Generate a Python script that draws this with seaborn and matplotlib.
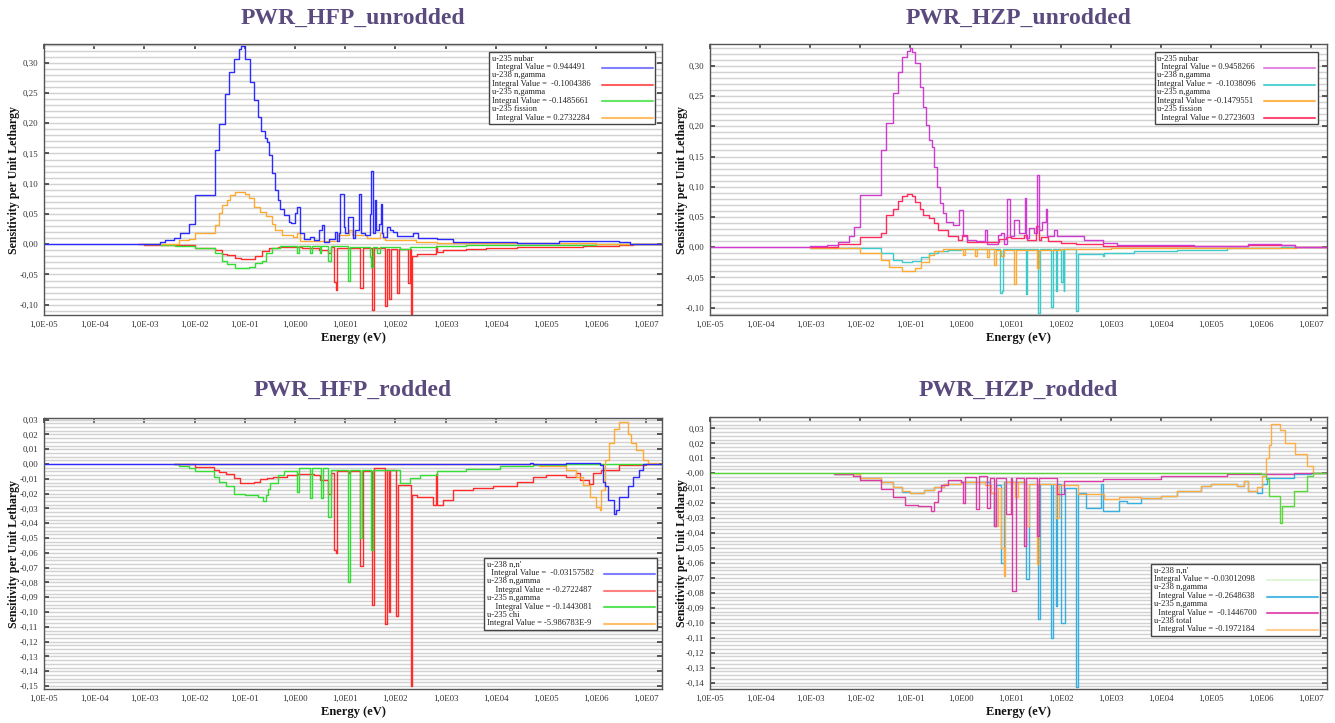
import numpy as np
import pandas as pd
import matplotlib
matplotlib.use("Agg")
import matplotlib.pyplot as plt
from matplotlib.lines import Line2D
from matplotlib.legend_handler import HandlerLine2D
from matplotlib.ticker import MultipleLocator, NullLocator, FixedLocator
import seaborn as sns

sns.set_theme(style="white")
plt.rcParams["font.family"] = ["Liberation Serif", "DejaVu Serif"]

# ---------------- shared axis text ----------------
X_TICKS = [1e-5, 1e-4, 1e-3, 1e-2, 1e-1, 1e0, 1e1, 1e2, 1e3, 1e4, 1e5, 1e6, 1e7]
X_TICK_LABELS = ["1,0E-05", "1,0E-04", "1,0E-03", "1,0E-02", "1,0E-01", "1,0E00",
                 "1,0E01", "1,0E02", "1,0E03", "1,0E04", "1,0E05", "1,0E06", "1,0E07"]
TITLES = ["PWR_HFP_unrodded", "PWR_HZP_unrodded", "PWR_HFP_rodded", "PWR_HZP_rodded"]
Y_LABEL = "Sensitivity per Unit Lethargy"
X_LABEL = "Energy (eV)"

# ================= PWR_HFP_unrodded =================
HFPU_NUBAR_E = [1e-5, 2.0e-3, 2.6e-3, 3.8e-3, 5.1e-3, 7.6e-3, 1.0e-2, 2.5e-2, 3.0e-2, 4.0e-2, 4.9e-2,
                6.0e-2, 7.8e-2, 8.5e-2, 1.0e-1, 1.26e-1, 1.55e-1, 1.8e-1, 2.1e-1, 2.5e-1, 2.8e-1, 3.1e-1,
                3.5e-1, 4.0e-1, 4.5e-1, 5.0e-1, 6.0e-1, 7.5e-1, 8.5e-1, 0.98, 1.1, 1.25, 1.5, 2.0, 2.4,
                3.0, 3.5, 3.8, 4.8, 6.2, 6.8, 7.4, 8.0, 9.3, 10.0, 11.6, 14.6, 15.8, 18.7, 20.4, 25.0,
                31.5, 33.3, 35.0, 39.5, 41.3, 48.0, 51.0, 53.5, 57.7, 69.0, 78.0, 91.0, 106.0, 229.0,
                286.0, 666.0, 1420.0, 2.6e4, 1.85e5, 2.9e6, 4.6e6, 2.0e7]
HFPU_NUBAR_S = [0.0, 0.004, 0.0066, 0.011, 0.018, 0.033, 0.081, 0.155, 0.199, 0.248, 0.285, 0.307,
                0.322, 0.327, 0.306, 0.269, 0.238, 0.21, 0.187, 0.175, 0.169, 0.148, 0.117, 0.09, 0.073,
                0.059, 0.048, 0.037, 0.035, 0.051, 0.061, 0.018, 0.008, 0.012, 0.007, 0.023, 0.032,
                0.004, 0.008, 0.02, 0.006, 0.018, 0.083, 0.029, 0.018, 0.045, 0.011, 0.023, 0.083,
                0.018, 0.015, 0.05, 0.121, 0.018, 0.073, 0.023, 0.034, 0.067, 0.018, 0.012, 0.028,
                0.024, 0.02, 0.014, 0.018, 0.011, 0.008, 0.0033, 0.002, 0.005, 0.0033, 0.0, 0.0]
HFPU_U238NG_E = [7.6e-4, 1.0e-3, 3.0e-3, 1.0e-2, 2.6e-2, 3.5e-2, 4.5e-2, 6.5e-2, 8.5e-2, 1.2e-1, 1.6e-1,
                 2.2e-1, 3.0e-1, 4.5e-1, 1.4, 3.0, 4.5, 5.3, 5.86, 6.5, 6.9, 19.9, 22.4, 34.0, 38.0,
                 62.0, 67.0, 76.0, 81.0, 107.0, 118.0, 181.0, 191.0, 204.0, 213.0, 264.0, 640.0, 676.0,
                 896.0, 2600.0, 6500.0, 2.6e4, 4.0e5, 5.4e5, 2.9e6, 5.3e6, 2.0e7]
HFPU_U238NG_S = [0.0, -0.001, -0.002, -0.0055, -0.01, -0.016, -0.018, -0.022, -0.024, -0.024, -0.02,
                 -0.012, -0.007, -0.0045, -0.006, -0.01, -0.015, -0.005, -0.062, -0.075, -0.006,
                 -0.073, -0.006, -0.108, -0.007, -0.102, -0.008, -0.09, -0.008, -0.08, -0.008, -0.064,
                 -0.008, -0.115, -0.02, -0.0165, -0.003, -0.0127, -0.01, -0.008, -0.006, -0.004,
                 -0.005, -0.003, -0.0015, 0.0, 0.0]
HFPU_U235NG_E = [1.0e-3, 2.0e-3, 4.0e-3, 1.0e-2, 2.6e-2, 3.5e-2, 4.5e-2, 6.5e-2, 1.2e-1, 1.6e-1, 2.2e-1,
                 2.6e-1, 3.5e-1, 5.0e-1, 1.08, 1.2, 1.95, 2.15, 3.1, 3.35, 4.6, 5.1, 11.6, 12.6, 31.5,
                 33.3, 36.0, 42.5, 50.0, 123.0, 195.0, 660.0, 2600.0, 1.0e6, 2.0e7]
HFPU_U235NG_S = [0.0, -0.001, -0.003, -0.006, -0.015, -0.027, -0.032, -0.04, -0.038, -0.031, -0.027,
                 -0.015, -0.007, -0.003, -0.014, -0.003, -0.015, -0.003, -0.015, -0.003, -0.027,
                 -0.0035, -0.06, -0.005, -0.021, -0.037, -0.004, -0.015, -0.004, -0.008, -0.0044,
                 -0.0022, -0.0005, 0.0, 0.0]
HFPU_FISS_E = [1.0e-3, 2.0e-3, 5.0e-3, 7.6e-3, 1.0e-2, 2.6e-2, 3.0e-2, 3.5e-2, 4.5e-2, 5.0e-2, 6.5e-2,
               1.0e-1, 1.2e-1, 1.55e-1, 2.0e-1, 2.6e-1, 3.5e-1, 4.0e-1, 5.5e-1, 9.0e-1, 1.1, 1.25, 6.8,
               12.0, 13.5, 27.0, 50.0, 56.0, 62.0, 260.0, 660.0, 1.0e6, 2.0e7]
HFPU_FISS_S = [0.0, 0.001, 0.0066, 0.009, 0.019, 0.031, 0.051, 0.065, 0.073, 0.081, 0.087, 0.083,
               0.076, 0.062, 0.054, 0.046, 0.034, 0.023, 0.015, 0.012, 0.019, 0.0055, 0.015, 0.023,
               0.015, 0.011, 0.018, 0.011, 0.0066, 0.0033, 0.0017, 0.0005, 0.0]
HFPU_LABELS = ["u-235 nubar\n  Integral Value = 0.944491",
               "u-238 n,gamma\nIntegral Value =  -0.1004386",
               "u-235 n,gamma\nIntegral Value = -0.1485661",
               "u-235 fission\n  Integral Value = 0.2732284"]

# ================= PWR_HZP_unrodded =================
HZPU_NUBAR_E = [1e-5, 1.0e-3, 2.2e-3, 3.5e-3, 6.0e-3, 7.6e-3, 1.0e-2, 2.6e-2, 3.2e-2, 4.5e-2, 5.6e-2,
                6.8e-2, 8.4e-2, 9.8e-2, 1.05e-1, 1.25e-1, 1.52e-1, 1.8e-1, 2.0e-1, 2.35e-1, 2.7e-1,
                3.0e-1, 3.4e-1, 3.8e-1, 4.4e-1, 5.1e-1, 6.9e-1, 0.95, 1.1, 1.35, 2.0, 3.0, 3.4, 5.6,
                6.3, 7.4, 8.3, 9.5, 11.6, 14.7, 19.3, 20.5, 23.0, 29.0, 34.0, 36.8, 43.0, 50.0, 54.0,
                73.0, 85.0, 290.0, 680.0, 1340.0, 4.5e4, 5.5e5, 2.5e6, 4.6e6, 2.0e7]
HZPU_NUBAR_S = [0.0, 0.002, 0.004, 0.009, 0.019, 0.034, 0.0865, 0.161, 0.205, 0.255, 0.29, 0.314,
                0.325, 0.33, 0.323, 0.305, 0.265, 0.232, 0.202, 0.177, 0.166, 0.133, 0.1, 0.073, 0.056,
                0.042, 0.037, 0.062, 0.018, 0.012, 0.01, 0.029, 0.006, 0.02, 0.023, 0.005, 0.079,
                0.018, 0.045, 0.023, 0.081, 0.015, 0.031, 0.023, 0.12, 0.029, 0.042, 0.063, 0.019,
                0.028, 0.019, 0.012, 0.0066, 0.003, 0.0017, 0.005, 0.003, 0.0, 0.0]
HZPU_U238NG_E = [1.0e-3, 2.6e-3, 2.6e-2, 4.5e-2, 6.8e-2, 1.05e-1, 1.6e-1, 2.35e-1, 3.6e-1, 5.6e-1, 1.0,
                 6.1, 6.6, 6.9, 20.0, 21.5, 35.7, 38.0, 65.0, 70.0, 79.0, 85.0, 100.0, 108.0, 114.0,
                 118.0, 200.0, 215.0, 680.0, 730.0, 2900.0, 2.1e4, 2.1e5, 2.5e6, 2.0e7]
HZPU_U238NG_S = [-0.0005, -0.002, -0.01, -0.021, -0.025, -0.023, -0.0165, -0.01, -0.0055, -0.0044,
                 -0.003, -0.076, -0.073, -0.003, -0.077, -0.003, -0.109, -0.003, -0.099, -0.003,
                 -0.073, -0.003, -0.058, -0.003, -0.073, -0.003, -0.105, -0.011, -0.014, -0.01,
                 -0.007, -0.0044, -0.002, 0.0, 0.0]
HZPU_U235NG_E = [1.0e-3, 1.0e-2, 2.6e-2, 3.8e-2, 6.8e-2, 1.25e-1, 1.6e-1, 2.35e-1, 3.0e-1, 4.5e-1, 1.1,
                 1.25, 1.9, 2.15, 3.4, 3.7, 4.6, 5.0, 6.3, 7.4, 11.6, 12.6, 34.0, 37.0, 100.0, 1000.0,
                 1.0e5, 5.0e6, 2.0e7]
HZPU_U235NG_S = [-0.001, -0.01, -0.021, -0.032, -0.0385, -0.035, -0.025, -0.013, -0.0055, -0.0033,
                 -0.013, -0.003, -0.0143, -0.003, -0.016, -0.003, -0.029, -0.004, -0.015, -0.004,
                 -0.06, -0.004, -0.035, -0.004, -0.003, -0.0015, -0.0008, 0.0, 0.0]
HZPU_FISS_E = [1.0e-3, 3.5e-3, 1.0e-2, 2.6e-2, 3.2e-2, 4.5e-2, 5.6e-2, 6.8e-2, 8.4e-2, 1.05e-1, 1.25e-1,
               1.52e-1, 1.8e-1, 2.35e-1, 3.0e-1, 3.6e-1, 5.6e-1, 8.9e-1, 1.05, 1.35, 5.9, 8.0, 10.0,
               18.0, 21.5, 31.5, 36.8, 40.0, 55.0, 100.0, 200.0, 680.0, 4.5e4, 5.5e5, 4.6e6, 2.0e7]
HZPU_FISS_S = [0.001, 0.0055, 0.0176, 0.023, 0.053, 0.064, 0.077, 0.084, 0.0876, 0.084, 0.074, 0.064,
               0.053, 0.048, 0.04, 0.029, 0.018, 0.012, 0.02, 0.009, 0.013, 0.0165, 0.015, 0.02,
               0.012, 0.035, 0.012, 0.0165, 0.0105, 0.0077, 0.0055, 0.002, 0.0017, 0.0038, 0.0, 0.0]
HZPU_LABELS = ["u-235 nubar\n  Integral Value = 0.9458266",
               "u-238 n,gamma\nIntegral Value =  -0.1038096",
               "u-235 n,gamma\nIntegral Value = -0.1479551",
               "u-235 fission\n  Integral Value = 0.2723603"]

# ================= PWR_HFP_rodded =================
HFPR_NN_E = [1e-5, 4.8e4, 5.5e4, 2.5e5, 4.7e5, 1.17e6, 1.36e6, 1.47e6, 1.7e6, 2.3e6, 2.5e6, 2.9e6,
             4.2e6, 5.3e6, 7.2e6, 8.4e6, 2.0e7]
HFPR_NN_S = [0.0, 0.001, 0.0, 0.0004, 0.0009, -0.0007, -0.012, -0.015, -0.024, -0.034, -0.031, -0.022,
             -0.015, -0.0086, -0.004, 0.0, 0.0]
HFPR_U238NG_E = [3.8e-3, 1.0e-2, 2.4e-2, 3.0e-2, 4.3e-2, 6.0e-2, 8.1e-2, 1.5e-1, 2.0e-1, 2.8e-1, 3.7e-1,
                 7.0e-1, 1.1, 2.4, 3.2, 4.5, 5.2, 5.86, 6.5, 6.9, 12.0, 12.6, 20.0, 22.4, 34.0, 37.5,
                 62.0, 67.0, 73.0, 78.0, 102.0, 115.0, 204.0, 213.0, 264.0, 560.0, 640.0, 660.0, 900.0,
                 1420.0, 3500.0, 8800.0, 2.6e4, 5.5e4, 1.0e5, 2.5e5, 4.0e5, 4.7e5, 7.3e5, 8.5e5,
                 1.25e6, 2.9e6, 9.8e6, 2.0e7]
HFPR_U238NG_S = [-0.0003, -0.0023, -0.004, -0.0056, -0.007, -0.0097, -0.0126, -0.012, -0.01, -0.0092,
                 -0.0086, -0.0074, -0.0068, -0.0075, -0.011, -0.02, -0.006, -0.058, -0.06, -0.005,
                 -0.006, -0.005, -0.069, -0.005, -0.095, -0.003, -0.108, -0.004, -0.1, -0.004, -0.103,
                 -0.014, -0.15, -0.021, -0.0225, -0.028, -0.007, -0.028, -0.024, -0.0175, -0.0165,
                 -0.015, -0.012, -0.0086, -0.0074, -0.0086, -0.006, -0.011, -0.0135, -0.006, -0.004,
                 -0.0007, 0.0, 0.0]
HFPR_U235NG_E = [3.8e-3, 5.0e-3, 7.6e-3, 1.0e-2, 2.4e-2, 3.0e-2, 4.3e-2, 6.0e-2, 1.0e-1, 1.8e-1, 2.3e-1,
                 2.6e-1, 2.9e-1, 3.2e-1, 4.5e-1, 6.0e-1, 1.08, 1.2, 1.95, 2.15, 3.3, 3.6, 4.6, 5.1, 11.6,
                 12.6, 20.0, 21.5, 32.4, 35.5, 123.0, 195.0, 310.0, 660.0, 2600.0, 1.2e4, 5.5e4, 2.5e5,
                 2.0e7]
HFPR_U235NG_S = [0.0, -0.001, -0.003, -0.0045, -0.0086, -0.012, -0.015, -0.02, -0.021, -0.0225, -0.025,
                 -0.021, -0.017, -0.013, -0.0074, -0.005, -0.019, -0.003, -0.023, -0.003, -0.023,
                 -0.003, -0.036, -0.004, -0.08, -0.004, -0.05, -0.004, -0.058, -0.004, -0.0126,
                 -0.0097, -0.0074, -0.005, -0.0034, -0.0014, -0.0007, 0.0, 0.0]
HFPR_CHI_E = [3.8e-3, 7.4e4, 2.5e5, 4.0e5, 5.4e5, 7.4e5, 1.0e6, 1.17e6, 1.26e6, 1.47e6, 1.79e6, 2.3e6,
              2.9e6, 4.2e6, 5.0e6, 6.2e6, 8.4e6, 1.07e7, 1.67e7, 2.0e7]
HFPR_CHI_S = [0.0, -0.0014, -0.004, -0.0086, -0.014, -0.022, -0.029, -0.031, -0.0175, 0.0027, 0.014,
              0.024, 0.0286, 0.02, 0.014, 0.0095, 0.0027, 0.0009, 0.0, 0.0]
HFPR_LABELS = ["u-238 n,n'\n  Integral Value =  -0.03157582",
               "u-238 n,gamma\n    Integral Value = -0.2722487",
               "u-235 n,gamma\n    Integral Value = -0.1443081",
               "u-235 chi\nIntegral Value = -5.986783E-9"]

# ================= PWR_HZP_rodded =================
HZPR_NN_E = [1e-5, 1.0e6, 1.24e6, 1.45e6, 2.4e6, 2.6e6, 4.5e6, 8.3e6, 1.05e7, 2.0e7]
HZPR_NN_S = [0.0, -0.0007, -0.004, -0.015, -0.033, -0.022, -0.012, -0.0018, 0.0, 0.0]
HZPR_U238NG_E = [3.0e-3, 1.0e-2, 2.6e-2, 4.5e-2, 6.8e-2, 1.0e-1, 1.9e-1, 3.0e-1, 4.7e-1, 1.0, 3.9, 4.6,
                 5.0, 6.3, 7.4, 20.0, 23.0, 35.0, 38.5, 65.0, 70.0, 79.0, 85.0, 100.0, 120.0, 200.0,
                 215.0, 315.0, 630.0, 680.0, 1450.0, 2100.0, 4000.0, 9800.0, 2.1e4, 6.2e4, 9.8e4,
                 3.3e5, 4.5e5, 5.3e5, 8.3e5, 1.05e6, 1.3e6, 4.5e6, 9.7e6, 2.0e7]
HZPR_U238NG_S = [-0.0007, -0.003, -0.006, -0.009, -0.0125, -0.013, -0.0114, -0.009, -0.007, -0.0062,
                 -0.013, -0.035, -0.008, -0.06, -0.006, -0.071, -0.007, -0.0975, -0.007, -0.11, -0.007,
                 -0.089, -0.007, -0.1, -0.01, -0.143, -0.013, -0.023, -0.007, -0.025, -0.0185, -0.0196,
                 -0.0167, -0.015, -0.0118, -0.0085, -0.007, -0.0085, -0.005, -0.0118, -0.013, -0.0074,
                 -0.003, -0.0002, 0.0, 0.0]
HZPR_U235NG_E = [3.0e-3, 7.0e-3, 1.0e-2, 2.6e-2, 4.5e-2, 7.6e-2, 1.4e-1, 2.6e-1, 3.0e-1, 3.5e-1, 4.0e-1,
                 5.5e-1, 1.0, 1.12, 1.25, 2.0, 2.3, 3.3, 3.8, 4.6, 5.0, 8.1, 10.0, 10.8, 12.6, 18.5, 20.0,
                 34.0, 37.0, 85.0, 116.0, 680.0, 1.0e4, 2.1e5, 4.5e6, 2.0e7]
HZPR_U235NG_S = [-0.0007, -0.0018, -0.0047, -0.0107, -0.016, -0.021, -0.022, -0.025, -0.019, -0.012,
                 -0.008, -0.0047, -0.006, -0.02, -0.0025, -0.024, -0.0018, -0.023, -0.003, -0.035,
                 -0.003, -0.027, -0.003, -0.0786, -0.003, -0.0486, -0.003, -0.042, -0.003, -0.014,
                 -0.005, -0.004, -0.0018, -0.0005, 0.0, 0.0]
HZPR_TOTAL_E = [3.0e-3, 1.0e-2, 2.6e-2, 4.5e-2, 6.8e-2, 1.0e-1, 1.9e-1, 3.0e-1, 4.7e-1, 1.0, 3.0, 4.1,
                5.1, 5.6, 6.3, 7.4, 7.8, 12.0, 14.0, 20.0, 23.0, 34.0, 37.0, 79.0, 90.0, 215.0, 730.0,
                1450.0, 4000.0, 9800.0, 2.1e4, 6.2e4, 9.8e4, 3.3e5, 4.5e5, 5.3e5, 8.3e5, 1.05e6,
                1.24e6, 1.45e6, 1.55e6, 2.4e6, 3.0e6, 4.8e6, 8.3e6, 1.05e7, 1.5e7, 2.0e7]
HZPR_TOTAL_S = [-0.0007, -0.003, -0.006, -0.009, -0.012, -0.013, -0.011, -0.009, -0.007, -0.0062,
                -0.008, -0.013, -0.035, -0.01, -0.05, -0.069, -0.006, -0.016, -0.006, -0.035, -0.007,
                -0.061, -0.007, -0.03, -0.008, -0.0136, -0.017, -0.016, -0.0167, -0.015, -0.0118,
                -0.0085, -0.007, -0.0085, -0.005, -0.0118, -0.0095, -0.0018, 0.0105, 0.019, 0.0327,
                0.029, 0.0205, 0.0127, 0.005, 0.0004, 0.0, 0.0]
HZPR_LABELS = ["u-238 n,n'\nIntegral Value = -0.03012098",
               "u-238 n,gamma\n  Integral Value = -0.2648638",
               "u-235 n,gamma\n  Integral Value =  -0.1446700",
               "u-238 total\n  Integral Value = -0.1972184"]

# ---------------- styling ----------------
C_BLUE, C_RED, C_GREEN, C_ORANGE = "#2b2bff", "#ff2b2b", "#33dd33", "#ffaa33"
C_MAGENTA, C_CYAN, C_CRIMSON = "#d03ad0", "#3ccaca", "#ff2a5e"
C_GREEN2, C_SKY, C_PINK, C_ORANGE2 = "#5ad83a", "#35aee0", "#dd3aa6", "#ffac45"
TITLE_COLOR = "#5a4a7e"

W, H = 1335, 723
fig = plt.figure(figsize=(W / 100, H / 100), dpi=100)

LEG_FS = 6.1
LEG_LS = 1.12


class SecondLineHandler(HandlerLine2D):
    """Draw the legend sample level with the second text line of a label."""

    def create_artists(self, legend, orig_handle, xdescent, ydescent, width, height,
                       fontsize, trans):
        arts = super().create_artists(legend, orig_handle, xdescent, ydescent, width,
                                      height, fontsize, trans)
        shift = 0.5 * fontsize * LEG_LS * 1.05
        for a in arts:
            a.set_ydata(np.asarray(a.get_ydata(), dtype=float) - shift)
        return arts


def px_axes(l, r, t, b):
    return fig.add_axes([l / W, 1 - b / H, (r - l) / W, (b - t) / H])


def draw(ax, E, S, color):
    n = min(len(E), len(S))
    df = pd.DataFrame({"E": E[:n], "S": S[:n]})
    sns.lineplot(data=df, x="E", y="S", ax=ax, color=color, lw=1.0, drawstyle="steps-post",
                 estimator=None, sort=False, legend=False)


def fmt(v):
    return f"{v:.2f}".replace(".", ",")


def style(ax, ylim, yticks, ylabels, minor_step, ylab_x):
    ax.set_xscale("log")
    ax.set_xlim(1e-5, 10 ** 7.31)
    ax.set_ylim(*ylim)
    ax.xaxis.set_major_locator(FixedLocator(X_TICKS))
    ax.xaxis.set_minor_locator(NullLocator())
    ax.set_xticklabels(X_TICK_LABELS)
    ax.yaxis.set_major_locator(FixedLocator(yticks))
    ax.set_yticklabels(ylabels)
    ax.yaxis.set_minor_locator(MultipleLocator(minor_step))
    ax.grid(False)
    ax.grid(which="both", axis="y", color="#d2d2d2", lw=1.05)
    ax.set_axisbelow(True)
    ax.tick_params(axis="both", which="major", labelsize=6.4, labelcolor="#333333",
                   direction="in", length=3.5, color="#444444", top=True, right=True,
                   bottom=False, left=True, pad=4)
    ax.tick_params(which="minor", length=0)
    for s in ax.spines.values():
        s.set_color("#555555")
        s.set_linewidth(1.0)
    ax.set_xlabel(X_LABEL, fontsize=9, fontweight="bold", color="#111111")
    ax.set_ylabel(Y_LABEL, fontsize=8.6, fontweight="bold", color="#111111")
    ax.xaxis.set_label_coords(0.5, -0.062)
    ax.yaxis.set_label_coords(ylab_x, 0.5)


def legend(ax, colors, labels, loc, anchor, handle_alpha, inner_width_px):
    handles = [Line2D([0], [0], color=c, lw=1.5, alpha=a) for c, a in zip(colors, handle_alpha)]
    leg = ax.legend(handles, labels, loc=loc, bbox_to_anchor=anchor, bbox_transform=ax.transAxes,
                    frameon=True, fancybox=False, edgecolor="#444444", fontsize=LEG_FS,
                    markerfirst=False, handlelength=6.0, handletextpad=1.6, borderpad=0.3,
                    labelspacing=0.0, borderaxespad=0.0, framealpha=1.0,
                    handler_map={Line2D: SecondLineHandler()})
    leg.get_frame().set_linewidth(1.0)
    for t in leg.get_texts():
        t.set_linespacing(LEG_LS)
        t.set_multialignment("left")
        t.set_color("#222222")
    # text flush left, sample line flush right (fixed-width rows)
    for col in leg._legend_handle_box.get_children():
        col.width = inner_width_px
        for row in col.get_children():
            row.mode = "expand"
    return leg


TOP_YTICKS = [-0.10, -0.05, 0.0, 0.05, 0.10, 0.15, 0.20, 0.25, 0.30]
BL_YTICKS = [round(0.03 - 0.01 * i, 2) for i in range(19)]
BR_YTICKS = [round(0.03 - 0.01 * i, 2) for i in range(18)]

# --- panel 1
ax1 = px_axes(44, 662, 44, 315)
ax1.set_xscale("log")
draw(ax1, HFPU_U238NG_E, HFPU_U238NG_S, C_RED)
draw(ax1, HFPU_U235NG_E, HFPU_U235NG_S, C_GREEN)
draw(ax1, HFPU_FISS_E, HFPU_FISS_S, C_ORANGE)
draw(ax1, HFPU_NUBAR_E, HFPU_NUBAR_S, C_BLUE)
style(ax1, (-0.117, 0.331), TOP_YTICKS, [fmt(v) for v in TOP_YTICKS], 0.01, -0.039)
legend(ax1, [C_BLUE, C_RED, C_GREEN, C_ORANGE], HFPU_LABELS, "upper right", (0.989, 0.970),
       [0.6, 0.75, 0.75, 0.75], 161)

# --- panel 2
ax2 = px_axes(710, 1327, 44, 315)
ax2.set_xscale("log")
draw(ax2, HZPU_U238NG_E, HZPU_U238NG_S, C_CYAN)
draw(ax2, HZPU_U235NG_E, HZPU_U235NG_S, C_ORANGE)
draw(ax2, HZPU_FISS_E, HZPU_FISS_S, C_CRIMSON)
draw(ax2, HZPU_NUBAR_E, HZPU_NUBAR_S, C_MAGENTA)
style(ax2, (-0.112, 0.336), TOP_YTICKS, [fmt(v) for v in TOP_YTICKS], 0.01, -0.036)
legend(ax2, [C_MAGENTA, C_CYAN, C_ORANGE, C_CRIMSON], HZPU_LABELS, "upper right", (0.985, 0.970),
       [0.6, 0.85, 0.85, 0.85], 158)

# --- panel 3
ax3 = px_axes(44, 662, 418, 689)
ax3.set_xscale("log")
draw(ax3, HFPR_U238NG_E, HFPR_U238NG_S, C_RED)
draw(ax3, HFPR_U235NG_E, HFPR_U235NG_S, C_GREEN)
draw(ax3, HFPR_CHI_E, HFPR_CHI_S, C_ORANGE)
draw(ax3, HFPR_NN_E, HFPR_NN_S, C_BLUE)
style(ax3, (-0.152, 0.0311), BL_YTICKS, [fmt(v) for v in BL_YTICKS], 0.0025, -0.039)
legend(ax3, [C_BLUE, C_RED, C_GREEN, C_ORANGE], HFPR_LABELS, "lower right", (0.992, 0.218),
       [0.6, 0.6, 0.8, 0.75], 168)

# --- panel 4
ax4 = px_axes(710, 1327, 417, 689)
ax4.set_xscale("log")
draw(ax4, HZPR_U238NG_E, HZPR_U238NG_S, C_SKY)
draw(ax4, HZPR_TOTAL_E, HZPR_TOTAL_S, C_ORANGE2)
draw(ax4, HZPR_U235NG_E, HZPR_U235NG_S, C_PINK)
draw(ax4, HZPR_NN_E, HZPR_NN_S, C_GREEN2)
br_labels = [fmt(v) for v in BR_YTICKS]
br_labels[3] = "-0,00"
style(ax4, (-0.1443, 0.0376), BR_YTICKS, br_labels, 0.0025, -0.036)
legend(ax4, [C_GREEN2, C_SKY, C_PINK, C_ORANGE2], HZPR_LABELS, "lower right", (0.989, 0.195),
       [0.2, 0.85, 0.85, 0.6], 164)

# --- titles
for ax, title, y in [(ax1, TITLES[0], 17), (ax2, TITLES[1], 17), (ax3, TITLES[2], 389),
                     (ax4, TITLES[3], 389)]:
    bb = ax.get_position()
    fig.text((bb.x0 + bb.x1) / 2, 1 - (y + 1) / H, title, ha="center", va="center", fontsize=17,
             fontweight="bold", color=TITLE_COLOR)

fig.savefig("out.png", dpi=100, facecolor="white")
